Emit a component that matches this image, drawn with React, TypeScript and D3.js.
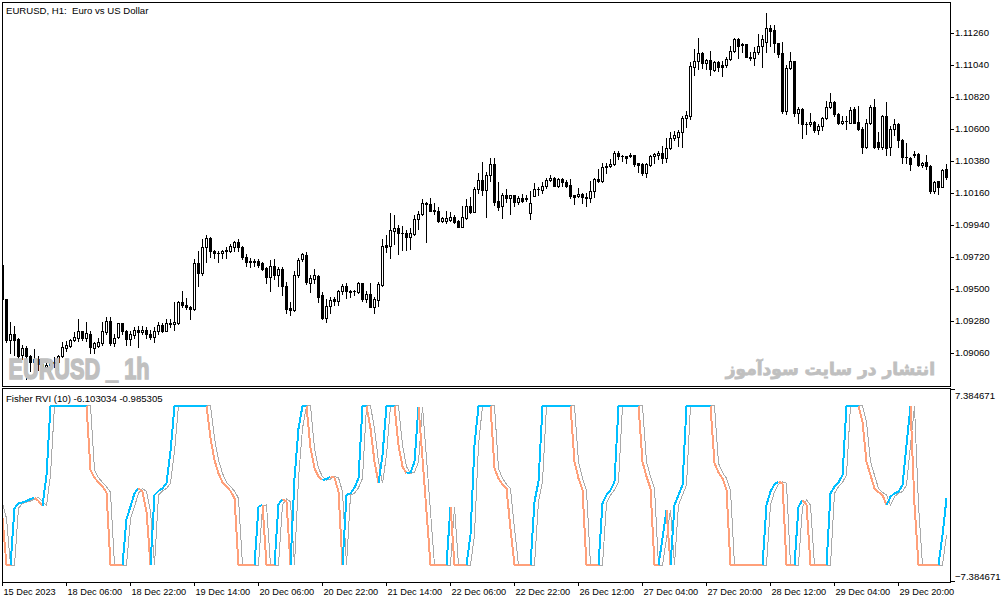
import { useEffect, useRef } from 'react';
import * as d3 from 'd3';

const timeLabels = [
  '15 Dec 2023', '18 Dec 06:00', '18 Dec 22:00', '19 Dec 14:00', '20 Dec 06:00',
  '20 Dec 22:00', '21 Dec 14:00', '22 Dec 06:00', '22 Dec 22:00', '26 Dec 12:00',
  '27 Dec 04:00', '27 Dec 20:00', '28 Dec 12:00', '29 Dec 04:00', '29 Dec 20:00',
];
const labelStep = 16; // one time label every 16 hourly bars

const priceTicks = [1.1126, 1.1104, 1.1082, 1.106, 1.1038, 1.1016, 1.0994, 1.0972, 1.095, 1.0928, 1.0906];
const fisherLimit = 7.384671;

const open = [
  1.09667, 1.09427, 1.09145, 1.09186, 1.09152, 1.09042, 1.0909, 1.09035, 1.09, 1.09014,
  1.0898, 1.08959, 1.08973, 1.08993, 1.09, 1.09035, 1.0909, 1.0911, 1.09145, 1.09165,
  1.09207, 1.09165, 1.09186, 1.0909, 1.0911, 1.09124, 1.092, 1.09282, 1.09124, 1.09172,
  1.09262, 1.09213, 1.09158, 1.09179, 1.0922, 1.092, 1.0922, 1.09186, 1.09172, 1.09207,
  1.09248, 1.09213, 1.09268, 1.09255, 1.09268, 1.09406, 1.09392, 1.09372, 1.09358, 1.09674,
  1.09612, 1.09784, 1.09846, 1.09757, 1.09743, 1.09743, 1.09757, 1.09763, 1.09784, 1.09825,
  1.09784, 1.09722, 1.09688, 1.09688, 1.09688, 1.09674, 1.0964, 1.09578, 1.0966, 1.09592,
  1.09633, 1.09516, 1.09365, 1.09351, 1.09598, 1.09702, 1.09729, 1.09543, 1.09564, 1.09585,
  1.09454, 1.09296, 1.09385, 1.09427, 1.09413, 1.09482, 1.09516, 1.09488, 1.09482, 1.09475,
  1.09537, 1.09433, 1.09461, 1.09378, 1.0942, 1.09523, 1.09798, 1.09791, 1.09894, 1.09915,
  1.09887, 1.09887, 1.09853, 1.0988, 1.09977, 1.10011, 1.10093, 1.1008, 1.10045, 1.10038,
  1.09963, 1.09963, 1.0997, 1.09997, 1.09963, 1.09928, 1.0999, 1.10066, 1.10025, 1.10183,
  1.10251, 1.10176, 1.10279, 1.10355, 1.10107, 1.10066, 1.10142, 1.10121, 1.10142, 1.101,
  1.10121, 1.10121, 1.10018, 1.10135, 1.10183, 1.10176, 1.1021, 1.10245, 1.10265, 1.1021,
  1.10258, 1.10231, 1.10217, 1.10142, 1.10135, 1.10155, 1.10128, 1.10121, 1.10169, 1.10258,
  1.10238, 1.10334, 1.10341, 1.10355, 1.10437, 1.1041, 1.1041, 1.10417, 1.10417, 1.10362,
  1.10355, 1.10293, 1.10348, 1.1041, 1.10417, 1.10437, 1.10396, 1.10465, 1.1054, 1.10547,
  1.10581, 1.10671, 1.10691, 1.11028, 1.11063, 1.11118, 1.11049, 1.1107, 1.11001, 1.11056,
  1.11042, 1.11042, 1.11077, 1.11138, 1.11214, 1.1118, 1.1118, 1.11097, 1.1109, 1.11125,
  1.11166, 1.112, 1.1129, 1.11276, 1.11193, 1.11118, 1.10719, 1.11021, 1.11063, 1.10712,
  1.10733, 1.1063, 1.1063, 1.1065, 1.10595, 1.10616, 1.10671, 1.10747, 1.10781, 1.10705,
  1.10643, 1.10657, 1.10643, 1.10733, 1.1065, 1.10602, 1.10478, 1.10643, 1.10753, 1.10506,
  1.10478, 1.10685, 1.10472, 1.10602, 1.10636, 1.10526, 1.10403, 1.10396, 1.10423, 1.1043,
  1.10348, 1.10375, 1.10341, 1.10169, 1.10238, 1.10203, 1.10327,
];

const high = [
  1.09688, 1.09433, 1.09275, 1.09241, 1.09165, 1.09117, 1.0911, 1.09048, 1.09083, 1.09035,
  1.09, 1.09, 1.09014, 1.09028, 1.09042, 1.09131, 1.09138, 1.09158, 1.092, 1.09289,
  1.09213, 1.09275, 1.09207, 1.09131, 1.09165, 1.09275, 1.09303, 1.09303, 1.09186, 1.09268,
  1.09268, 1.0922, 1.09207, 1.09234, 1.09241, 1.09241, 1.09234, 1.0922, 1.09234, 1.09275,
  1.09268, 1.09289, 1.09289, 1.09406, 1.09413, 1.09488, 1.0944, 1.09385, 1.09702, 1.09757,
  1.09839, 1.09867, 1.09853, 1.0977, 1.09757, 1.0977, 1.09784, 1.09805, 1.09832, 1.09839,
  1.09791, 1.09736, 1.09715, 1.09708, 1.09702, 1.09681, 1.09647, 1.09695, 1.09702, 1.09653,
  1.09653, 1.0955, 1.09406, 1.09619, 1.09715, 1.09743, 1.0975, 1.09598, 1.09633, 1.09598,
  1.09475, 1.09427, 1.09447, 1.09447, 1.09495, 1.0953, 1.09543, 1.09495, 1.09495, 1.0955,
  1.09543, 1.09482, 1.09537, 1.09447, 1.0955, 1.09839, 1.09867, 1.10018, 1.10004, 1.09942,
  1.09935, 1.09901, 1.09915, 1.10004, 1.10032, 1.10114, 1.101, 1.10121, 1.10093, 1.10059,
  1.09997, 1.10038, 1.10025, 1.10004, 1.0997, 1.10066, 1.10114, 1.10128, 1.10203, 1.10293,
  1.10375, 1.103, 1.10396, 1.10396, 1.10231, 1.10162, 1.10183, 1.10148, 1.10148, 1.10135,
  1.10155, 1.10148, 1.10169, 1.10224, 1.10197, 1.10231, 1.10265, 1.10279, 1.10272, 1.10265,
  1.10265, 1.10245, 1.10258, 1.10142, 1.1019, 1.10162, 1.10162, 1.10238, 1.10265, 1.10327,
  1.10368, 1.10368, 1.10389, 1.10444, 1.10444, 1.10423, 1.1041, 1.10437, 1.10417, 1.10368,
  1.10362, 1.10362, 1.10417, 1.10437, 1.10444, 1.10485, 1.1054, 1.10575, 1.10588, 1.10595,
  1.10691, 1.10719, 1.11056, 1.11152, 1.11221, 1.11125, 1.11083, 1.11138, 1.11063, 1.11063,
  1.11063, 1.11097, 1.11166, 1.11221, 1.11221, 1.11193, 1.1118, 1.11125, 1.11159, 1.11255,
  1.11248, 1.11393, 1.11317, 1.11317, 1.11193, 1.112, 1.11042, 1.11131, 1.11063, 1.10753,
  1.1074, 1.1065, 1.10712, 1.10657, 1.1063, 1.10678, 1.10788, 1.10843, 1.10788, 1.10712,
  1.10685, 1.10685, 1.10747, 1.10747, 1.1076, 1.10609, 1.10664, 1.10767, 1.10802, 1.10575,
  1.10698, 1.10781, 1.10616, 1.10664, 1.10643, 1.10533, 1.10499, 1.10403, 1.10444, 1.10437,
  1.10375, 1.10423, 1.10348, 1.10238, 1.10238, 1.10327, 1.10355,
];

const low = [
  1.09413, 1.09131, 1.09062, 1.09042, 1.09, 1.09014, 1.08877, 1.08932, 1.08925, 1.08945,
  1.08932, 1.08932, 1.08932, 1.08959, 1.08945, 1.09028, 1.09069, 1.09097, 1.09138, 1.09138,
  1.09145, 1.09138, 1.09062, 1.09062, 1.09097, 1.09117, 1.09186, 1.09117, 1.0911, 1.09165,
  1.09186, 1.09117, 1.09117, 1.09165, 1.09097, 1.09186, 1.09165, 1.09158, 1.09131, 1.09186,
  1.092, 1.09207, 1.09234, 1.0922, 1.09255, 1.09378, 1.09358, 1.09289, 1.09351, 1.09516,
  1.09598, 1.09681, 1.09722, 1.09715, 1.09681, 1.09715, 1.09715, 1.0975, 1.09757, 1.09757,
  1.09708, 1.0966, 1.09653, 1.0966, 1.09647, 1.09626, 1.09543, 1.09488, 1.09564, 1.09516,
  1.09454, 1.09337, 1.09317, 1.09344, 1.09578, 1.09688, 1.0953, 1.09475, 1.09543, 1.09406,
  1.09289, 1.09275, 1.09337, 1.09392, 1.09392, 1.09461, 1.0944, 1.09447, 1.09454, 1.09468,
  1.09413, 1.09406, 1.09378, 1.09337, 1.09385, 1.09516, 1.0975, 1.09715, 1.09805, 1.09736,
  1.0977, 1.0977, 1.09777, 1.09867, 1.09908, 1.10004, 1.09825, 1.10032, 1.10011, 1.09956,
  1.09956, 1.09949, 1.09963, 1.09949, 1.09922, 1.09922, 1.09977, 1.10018, 1.10025, 1.10162,
  1.10142, 1.09997, 1.10238, 1.10073, 1.10045, 1.0999, 1.101, 1.10011, 1.10066, 1.1008,
  1.101, 1.10107, 1.09983, 1.10135, 1.10142, 1.10162, 1.1019, 1.10238, 1.1021, 1.10203,
  1.1021, 1.10203, 1.10121, 1.1008, 1.10128, 1.10093, 1.10066, 1.101, 1.10128, 1.10231,
  1.10231, 1.10293, 1.10334, 1.10348, 1.10389, 1.10382, 1.10368, 1.10403, 1.10341, 1.103,
  1.10279, 1.10272, 1.10341, 1.10362, 1.10389, 1.10362, 1.10375, 1.10458, 1.10526, 1.10485,
  1.10478, 1.10609, 1.10664, 1.10973, 1.11008, 1.11021, 1.11008, 1.10973, 1.10994, 1.10994,
  1.1096, 1.11028, 1.1107, 1.11125, 1.1109, 1.11125, 1.11097, 1.1107, 1.11042, 1.11111,
  1.11028, 1.11131, 1.11166, 1.11131, 1.11097, 1.10712, 1.10705, 1.11008, 1.10685, 1.10643,
  1.1054, 1.10561, 1.10616, 1.10581, 1.10561, 1.10595, 1.10664, 1.1074, 1.10691, 1.1063,
  1.1063, 1.10602, 1.10643, 1.10643, 1.10595, 1.10437, 1.10465, 1.1063, 1.10465, 1.10458,
  1.10458, 1.10417, 1.10423, 1.10554, 1.10478, 1.10368, 1.10368, 1.1032, 1.10403, 1.10341,
  1.10334, 1.10327, 1.10162, 1.10162, 1.10155, 1.10197, 1.10258,
];

const close = [
  1.09427, 1.09145, 1.09186, 1.09145, 1.09035, 1.0909, 1.09035, 1.09, 1.09014, 1.0898,
  1.08959, 1.08973, 1.08993, 1.09, 1.09035, 1.09097, 1.09117, 1.09145, 1.09172, 1.09207,
  1.09165, 1.09193, 1.09097, 1.09124, 1.09131, 1.09207, 1.09282, 1.09124, 1.09165, 1.09262,
  1.09213, 1.09158, 1.09186, 1.0922, 1.092, 1.0922, 1.09186, 1.09172, 1.09207, 1.09248,
  1.09213, 1.09268, 1.09255, 1.09275, 1.09406, 1.09392, 1.09372, 1.09358, 1.09674, 1.09612,
  1.09784, 1.09846, 1.09757, 1.09743, 1.09743, 1.09757, 1.0977, 1.09791, 1.09825, 1.09784,
  1.09722, 1.09681, 1.09681, 1.09681, 1.09667, 1.09633, 1.09578, 1.0966, 1.09592, 1.09633,
  1.09516, 1.09358, 1.09351, 1.09598, 1.09695, 1.09736, 1.0955, 1.09571, 1.09592, 1.09447,
  1.09296, 1.09385, 1.0942, 1.09413, 1.09488, 1.09516, 1.09482, 1.09475, 1.09482, 1.09537,
  1.09433, 1.09461, 1.09378, 1.09427, 1.0953, 1.09791, 1.09784, 1.09901, 1.09915, 1.09887,
  1.09887, 1.09853, 1.09887, 1.09983, 1.10011, 1.10087, 1.1008, 1.10038, 1.10032, 1.09963,
  1.0999, 1.0999, 1.09997, 1.09956, 1.09928, 1.09997, 1.10066, 1.10025, 1.10183, 1.10251,
  1.10176, 1.10279, 1.10355, 1.101, 1.10059, 1.10148, 1.10121, 1.10142, 1.101, 1.10121,
  1.10107, 1.10114, 1.10093, 1.10183, 1.10183, 1.1021, 1.10251, 1.10265, 1.1021, 1.10258,
  1.10231, 1.1021, 1.10135, 1.10128, 1.10155, 1.10128, 1.10121, 1.10169, 1.10258, 1.10238,
  1.10334, 1.10341, 1.10355, 1.10437, 1.1041, 1.1041, 1.10396, 1.1041, 1.10355, 1.10348,
  1.10293, 1.10355, 1.1041, 1.1043, 1.10437, 1.10396, 1.10465, 1.1054, 1.10554, 1.10581,
  1.10671, 1.10698, 1.11035, 1.11063, 1.11118, 1.11049, 1.1107, 1.11008, 1.11056, 1.11028,
  1.11028, 1.11083, 1.11138, 1.11214, 1.11166, 1.11173, 1.11097, 1.1109, 1.11125, 1.11166,
  1.11214, 1.1129, 1.11269, 1.11193, 1.11111, 1.10719, 1.11021, 1.11063, 1.10712, 1.10733,
  1.1063, 1.10636, 1.1065, 1.10595, 1.10616, 1.10671, 1.10753, 1.10781, 1.10705, 1.10643,
  1.10657, 1.10657, 1.10726, 1.10643, 1.10602, 1.10478, 1.10643, 1.10753, 1.10478, 1.10478,
  1.10685, 1.10465, 1.10602, 1.10636, 1.10526, 1.10403, 1.10403, 1.10355, 1.1043, 1.10348,
  1.10368, 1.10341, 1.10169, 1.10231, 1.10197, 1.1032, 1.10272,
];

// Fisher RVI main line (drawn blue when rising, salmon when falling)
const fisher = [
  -2.52, -6.103, -6.103, -1.75, -1.37, -1.29, -1.19, -1.04, -0.93, -1.19,
  -1.55, 0.8, 6.103, 6.103, 6.103, 6.103, 6.103, 6.103, 6.103, 6.103,
  6.103, 6.103, 1.19, 0.6, 0.24, -0.09, -0.52, -6.103, -6.103, -6.103,
  -6.103, -2.57, -1.62, -0.6, -0.22, -0.47, -2.0, -6.103, -0.73, -0.42,
  -0.22, 0.17, 2.6, 6.103, 6.103, 6.103, 6.103, 6.103, 6.103, 6.103,
  6.103, 6.103, 3.62, 1.96, 0.93, 0.24, -0.09, -0.42, -0.98, -6.103,
  -6.103, -6.103, -6.103, -6.103, -1.62, -1.49, -6.103, -6.103, -6.103, -1.45,
  -1.04, -1.24, -6.103, 0.55, 4.38, 6.103, 6.103, 2.85, 1.32, 0.68,
  0.42, 0.5, 0.68, 0.6, -0.47, -6.103, -0.73, -0.6, -0.17, 0.55,
  6.103, 6.103, 4.38, 1.83, 0.17, 2.34, 6.103, 6.103, 6.103, 3.1,
  1.45, 0.93, 1.0, 1.83, 6.05, 2.08, -2.0, -6.103, -6.103, -6.103,
  -6.103, -6.103, -1.62, -6.103, -6.103, -6.103, -6.103, -3.8, 3.1, 6.103,
  6.103, 6.103, 6.103, 1.32, 0.55, 0.09, -0.22, -3.3, -6.103, -6.103,
  -6.103, -6.103, -6.103, -1.24, 0.3, 6.103, 6.103, 6.103, 6.103, 6.103,
  6.103, 6.103, 6.103, 1.83, 0.55, -0.35, -6.103, -6.103, -6.103, -6.103,
  -1.37, -0.73, -0.35, 0.29, 6.103, 6.103, 6.103, 6.103, 6.103, 6.103,
  1.83, 0.68, -0.22, -6.103, -6.103, -4.06, -1.88, -6.103, -1.5, -0.73,
  0.04, 6.103, 6.103, 6.103, 6.103, 6.103, 6.103, 6.103, 1.7, 1.0,
  0.55, -0.35, -6.103, -6.103, -6.103, -6.103, -6.103, -6.103, -6.103, -6.103,
  -6.103, -1.5, -0.47, 0.09, 0.29, 0.17, -6.103, -6.103, -6.103, -1.62,
  -1.11, -1.5, -6.103, -6.103, -6.103, -6.103, -6.103, -0.6, -0.09, 0.24,
  0.8, 6.103, 6.103, 6.103, 6.103, 4.9, 1.83, 0.8, -0.22, -0.52,
  -0.73, -1.5, -0.86, -0.6, -0.47, 0.04, 3.1, 6.103, -1.5, -6.103,
  -6.103, -6.103, -6.103, -6.103, -6.103, -3.8, -0.99,
];

// signal line (gray)
const signal = [
  -1.37, -2.52, -6.103, -6.103, -1.75, -1.37, -1.29, -1.19, -1.04, -0.93,
  -1.19, -1.55, 0.8, 6.103, 6.103, 6.103, 6.103, 6.103, 6.103, 6.103,
  6.103, 6.103, 6.103, 1.19, 0.6, 0.24, -0.09, -0.52, -6.103, -6.103,
  -6.103, -6.103, -2.57, -1.62, -0.6, -0.22, -0.47, -2.0, -6.103, -0.73,
  -0.42, -0.22, 0.17, 2.6, 6.103, 6.103, 6.103, 6.103, 6.103, 6.103,
  6.103, 6.103, 6.103, 3.62, 1.96, 0.93, 0.24, -0.09, -0.42, -0.98,
  -6.103, -6.103, -6.103, -6.103, -6.103, -1.62, -1.49, -6.103, -6.103, -6.103,
  -1.45, -1.04, -1.24, -6.103, 0.55, 4.38, 6.103, 6.103, 2.85, 1.32,
  0.68, 0.42, 0.5, 0.68, 0.6, -0.47, -6.103, -0.73, -0.6, -0.17,
  0.55, 6.103, 6.103, 4.38, 1.83, 0.17, 2.34, 6.103, 6.103, 6.103,
  3.1, 1.45, 0.93, 1.0, 1.83, 6.05, 2.08, -2.0, -6.103, -6.103,
  -6.103, -6.103, -6.103, -1.62, -6.103, -6.103, -6.103, -6.103, -3.8, 3.1,
  6.103, 6.103, 6.103, 6.103, 1.32, 0.55, 0.09, -0.22, -3.3, -6.103,
  -6.103, -6.103, -6.103, -6.103, -1.24, 0.3, 6.103, 6.103, 6.103, 6.103,
  6.103, 6.103, 6.103, 6.103, 1.83, 0.55, -0.35, -6.103, -6.103, -6.103,
  -6.103, -1.37, -0.73, -0.35, 0.29, 6.103, 6.103, 6.103, 6.103, 6.103,
  6.103, 1.83, 0.68, -0.22, -6.103, -6.103, -4.06, -1.88, -6.103, -1.5,
  -0.73, 0.04, 6.103, 6.103, 6.103, 6.103, 6.103, 6.103, 6.103, 1.7,
  1.0, 0.55, -0.35, -6.103, -6.103, -6.103, -6.103, -6.103, -6.103, -6.103,
  -6.103, -6.103, -1.5, -0.47, 0.09, 0.29, 0.17, -6.103, -6.103, -6.103,
  -1.62, -1.11, -1.5, -6.103, -6.103, -6.103, -6.103, -6.103, -0.6, -0.09,
  0.24, 0.8, 6.103, 6.103, 6.103, 6.103, 4.9, 1.83, 0.8, -0.22,
  -0.52, -0.73, -1.5, -0.86, -0.6, -0.47, 0.04, 3.1, 6.103, -1.5,
  -6.103, -6.103, -6.103, -6.103, -6.103, -6.103, -3.8,
];

const BLUE = '#00BFFF';
const SALMON = '#FFA07A';
const GRAY = '#A9A9A9';
const WATERMARK = '#C0C0C0';
const FONT = "Tahoma, 'Liberation Sans', Arial, sans-serif";

export default function App() {
  const ref = useRef<SVGSVGElement | null>(null);

  useEffect(() => {
    if (!ref.current) return;
    const svg = d3.select(ref.current);
    svg.selectAll('*').remove();

    const width = 1003;
    const height = 603;
    const left = 2.5;
    const right = 950.5;
    const mainTop = 2.5;
    const mainBottom = 386.5;
    const subTop = 388.5;
    const subBottom = 582.5;

    const n = close.length;
    const x = d3.scaleLinear().domain([0, n - 1]).range([2.5, 2.5 + 4 * (n - 1)]);
    const y = d3.scaleLinear().domain([1.0906, 1.1126]).range([353.3, 33.3]);
    const yf = d3.scaleLinear().domain([-fisherLimit, fisherLimit]).range([581.7, 389.3]);
    const snap = (v: number) => Math.floor(v) + 0.5;

    svg.attr('width', width).attr('height', height);
    svg.append('rect').attr('width', width).attr('height', height).attr('fill', '#fff');

    const defs = svg.append('defs');
    defs.append('clipPath').attr('id', 'clip-main')
      .append('rect').attr('x', 3).attr('y', 3).attr('width', right - 3).attr('height', mainBottom - 3);
    defs.append('clipPath').attr('id', 'clip-sub')
      .append('rect').attr('x', 3).attr('y', subTop + 0.5).attr('width', right - 3).attr('height', subBottom - subTop - 1);

    // candles
    const gc = svg.append('g').attr('clip-path', 'url(#clip-main)').attr('shape-rendering', 'crispEdges');
    d3.range(n).forEach(i => {
      const cx = x(i);
      const o = open[i];
      const c = close[i];
      const top = snap(y(Math.max(o, c)));
      const bot = snap(y(Math.min(o, c)));
      gc.append('line')
        .attr('x1', cx).attr('x2', cx)
        .attr('y1', snap(y(high[i])) - 0.5).attr('y2', snap(y(low[i])) + 0.5)
        .attr('stroke', '#000').attr('stroke-width', 1);
      if (bot - top < 1) {
        gc.append('line')
          .attr('x1', cx - 1.5).attr('x2', cx + 1.5)
          .attr('y1', top).attr('y2', top)
          .attr('stroke', '#000').attr('stroke-width', 1);
      } else {
        gc.append('rect')
          .attr('x', cx - 1).attr('y', top)
          .attr('width', 2).attr('height', bot - top)
          .attr('fill', c >= o ? '#fff' : '#000')
          .attr('stroke', '#000').attr('stroke-width', 1);
      }
    });

    // watermarks
    svg.append('text')
      .attr('x', 8.5).attr('y', 378.5)
      .attr('font-family', "'Liberation Sans', Arial, sans-serif")
      .attr('font-weight', 'bold').attr('font-size', 30)
      .attr('fill', WATERMARK).attr('stroke', WATERMARK).attr('stroke-width', 1.6)
      .attr('stroke-linejoin', 'miter')
      .attr('textLength', 141).attr('lengthAdjust', 'spacingAndGlyphs')
      .style('white-space', 'pre')
      .text('EURUSD _ 1h');
    svg.append('text')
      .attr('x', 935).attr('y', 375)
      .attr('text-anchor', 'end')
      .attr('font-family', "'DejaVu Sans', sans-serif")
      .attr('font-weight', 'bold').attr('font-size', 17)
      .attr('fill', WATERMARK).attr('stroke', WATERMARK).attr('stroke-width', 0.8)
      .text('انتشار در سایت سودآموز');

    // indicator lines
    const gs = svg.append('g').attr('clip-path', 'url(#clip-sub)').attr('shape-rendering', 'crispEdges');
    const lineOf = (vals: number[]) =>
      d3.line<number>().x(i => x(i)).y(i => yf(vals[i]));

    gs.append('path')
      .attr('d', lineOf(signal)(d3.range(n)))
      .attr('fill', 'none').attr('stroke', GRAY).attr('stroke-width', 1);

    const colors: string[] = [];
    fisher.forEach((v, i) => {
      if (i === 0) colors.push(SALMON);
      else if (v > fisher[i - 1]) colors.push(BLUE);
      else if (v < fisher[i - 1]) colors.push(SALMON);
      else colors.push(colors[i - 1]);
    });
    let start = 0;
    for (let i = 1; i < n; i++) {
      const endRun = i === n - 1 || colors[i + 1] !== colors[i];
      if (endRun) {
        gs.append('path')
          .attr('d', lineOf(fisher)(d3.range(start, i + 1)))
          .attr('fill', 'none').attr('stroke', colors[i]).attr('stroke-width', 2)
          .attr('stroke-linejoin', 'round');
        start = i;
      }
    }

    // pane frames
    svg.append('rect')
      .attr('x', left).attr('y', mainTop)
      .attr('width', right - left).attr('height', mainBottom - mainTop)
      .attr('fill', 'none').attr('stroke', '#000').attr('shape-rendering', 'crispEdges');
    svg.append('rect')
      .attr('x', left).attr('y', subTop)
      .attr('width', right - left).attr('height', subBottom - subTop)
      .attr('fill', 'none').attr('stroke', '#000').attr('shape-rendering', 'crispEdges');

    // price axis
    const yAxis = d3.axisRight(y)
      .tickValues(priceTicks)
      .tickSize(4)
      .tickPadding(1)
      .offset(0)
      .tickFormat(d => d3.format('.5f')(d as number));
    svg.append('g')
      .attr('transform', `translate(${right - 0.5},0)`)
      .call(yAxis)
      .call(g => g.select('.domain').remove())
      .call(g => g.selectAll('line').attr('shape-rendering', 'crispEdges'))
      .attr('font-family', FONT).attr('font-size', 9.6);

    // time axis
    const xAxis = d3.axisBottom(x)
      .tickValues(timeLabels.map((_, k) => k * labelStep))
      .tickSize(4)
      .tickPadding(2)
      .offset(0)
      .tickFormat(d => timeLabels[(d as number) / labelStep]);
    svg.append('g')
      .attr('transform', `translate(0,${subBottom - 0.5})`)
      .call(xAxis)
      .call(g => g.select('.domain').remove())
      .call(g => g.selectAll('line').attr('shape-rendering', 'crispEdges'))
      .call(g => g.selectAll('text').attr('text-anchor', 'start').attr('x', 1))
      .attr('font-family', FONT).attr('font-size', 9.2);

    // indicator scale labels
    const subAxis = svg.append('g').attr('font-family', FONT).attr('font-size', 9.6).attr('shape-rendering', 'crispEdges');
    [fisherLimit, -fisherLimit].forEach(v => {
      const ty = snap(yf(v));
      subAxis.append('line')
        .attr('x1', right).attr('x2', right + 4)
        .attr('y1', ty).attr('y2', ty)
        .attr('stroke', '#000');
      subAxis.append('text')
        .attr('x', right + 4.5)
        .attr('y', v > 0 ? ty + 6.5 : ty - 4)
        .attr('dominant-baseline', 'middle')
        .text(d3.format('.6f')(v));
    });

    // titles
    svg.append('text')
      .attr('x', 6).attr('y', 13.5)
      .attr('font-family', FONT).attr('font-size', 9.6)
      .style('white-space', 'pre')
      .text('EURUSD, H1:  Euro vs US Dollar');
    svg.append('text')
      .attr('x', 6).attr('y', 401.5)
      .attr('font-family', FONT).attr('font-size', 9.6)
      .style('white-space', 'pre')
      .text('Fisher RVI (10) -6.103034 -0.985305');
  }, []);

  return (
    <svg ref={ref} style={{ position: 'absolute', left: 0, top: 0, display: 'block' }}></svg>
  );
}
